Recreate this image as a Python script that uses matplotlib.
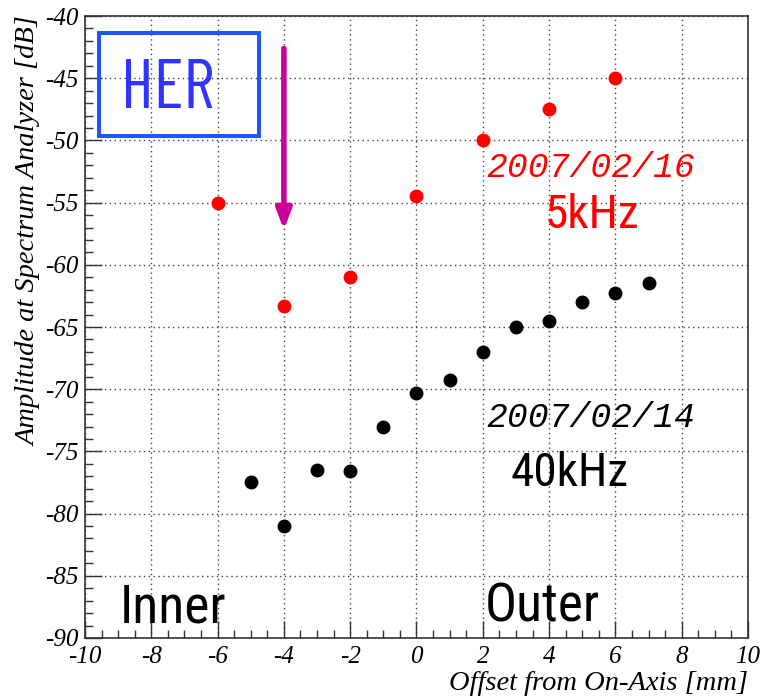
"""
Amplitude vs offset from on-axis, HER, two measurement dates
"""

import numpy as np
import matplotlib
matplotlib.use("Agg")
import matplotlib.pyplot as plt
from matplotlib.patches import Rectangle
from matplotlib.ticker import MultipleLocator

# 2007/02/16, 5kHz (red)
X_5KHZ = [-6, -4, -2, 0, 2, 4, 6]
Y_5KHZ = [-55.0, -63.3, -61.0, -54.5, -50.0, -47.5, -45.0]
# 2007/02/14, 40kHz (black)
X_40KHZ = [-5, -4, -3, -2, -1, 0, 1, 2, 3, 4, 5, 6, 7]
Y_40KHZ = [-77.5, -81.0, -76.5, -76.6, -73.0, -70.3, -69.3,
           -67.0, -65.0, -64.5, -63.0, -62.3, -61.5]

SERIF = ['Liberation Serif', 'DejaVu Serif']
NARROW = ['Roboto Condensed', 'Archivo Narrow', 'DejaVu Sans']
XNARROW = ['Barlow Condensed', 'Roboto Condensed', 'DejaVu Sans']
MONO = ['Liberation Mono', 'Courier Prime', 'DejaVu Sans Mono']

plt.rcParams['axes.unicode_minus'] = False

fig = plt.figure(figsize=(7.63, 6.98), dpi=100)
ax = fig.add_axes([0.1114, 0.086, 0.8689, 0.891])

ax.plot(X_5KHZ, Y_5KHZ, 'o', color='#ff0000', markersize=9, zorder=3)
ax.plot(X_40KHZ, Y_40KHZ, 'o', color='#000000', markersize=9, zorder=3)

ax.set_xlim(-10, 10)
ax.set_ylim(-90, -40)
ax.xaxis.set_major_locator(MultipleLocator(2))
ax.xaxis.set_minor_locator(MultipleLocator(0.5))
ax.yaxis.set_major_locator(MultipleLocator(5))
ax.yaxis.set_minor_locator(MultipleLocator(1))
ax.tick_params(which='both', direction='in', top=False, right=False,
               labelsize=18, color='#333333')
ax.tick_params(which='major', length=12, width=1)
ax.tick_params(which='minor', length=6, width=1)
ax.tick_params(axis='x', which='major', pad=6)
ax.tick_params(axis='y', which='major', pad=5)
for lab in ax.get_xticklabels() + ax.get_yticklabels():
    lab.set_family(SERIF)
    lab.set_style('italic')
ax.grid(True, which='major', color='#444444', linestyle=(0, (1, 2.5)),
        linewidth=1)
for sp in ax.spines.values():
    sp.set_color('#333333')
    sp.set_linewidth(1.2)

ax.set_xlabel('Offset from On-Axis [mm]', family=SERIF, style='italic',
              fontsize=20.5, loc='right', labelpad=2)
ax.set_ylabel('Amplitude at Spectrum Analyzer [dB]', family=SERIF,
              style='italic', fontsize=20.5, loc='top', labelpad=2)

# HER box
ax.add_patch(Rectangle((-9.58, -49.65), 4.83, 8.28, fill=False,
                       edgecolor='#2255ff', linewidth=2.9, zorder=4))
ax.text(-7.51, -47.4, 'HER', color='#3333ff', family=XNARROW, fontsize=50,
        ha='center', va='baseline', zorder=5)

# Arrow at -4 mm
ax.annotate('', xy=(-4, -57.2), xytext=(-4, -42.6),
            arrowprops=dict(arrowstyle='-|>,head_width=0.45,head_length=1.2',
                            color='#cc0099', linewidth=4, shrinkA=0,
                            shrinkB=0))

ax.text(2.1, -52.94, '2007/02/16', color='#ff0000', family=MONO,
        style='italic', fontsize=25, ha='left', va='baseline')
ax.text(5.29, -57.04, '5kHz', color='#ff0000', family=NARROW, fontsize=34,
        ha='center', va='baseline')
ax.text(2.1, -73.04, '2007/02/14', color='#000000', family=MONO,
        style='italic', fontsize=25, ha='left', va='baseline')
ax.text(4.61, -77.78, '40kHz', color='#000000', family=NARROW, fontsize=34,
        ha='center', va='baseline')
ax.text(-8.95, -88.79, 'Inner', color='#000000', family=NARROW,
        fontsize=38.5, ha='left', va='baseline')
ax.text(2.06, -88.65, 'Outer', color='#000000', family=NARROW,
        fontsize=38.5, ha='left', va='baseline')

fig.savefig('out.png', dpi=100)
